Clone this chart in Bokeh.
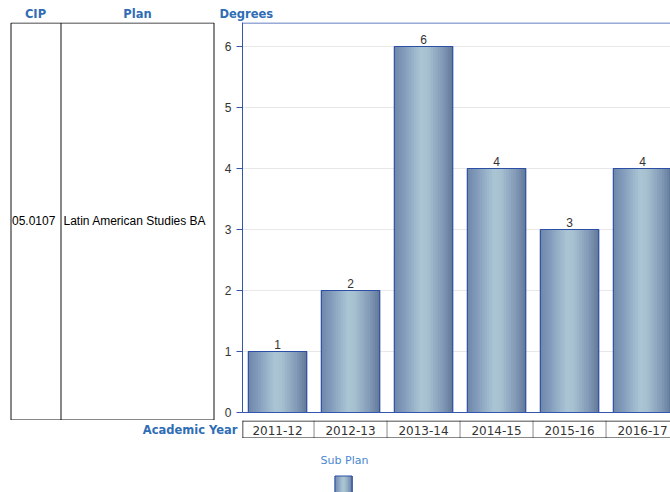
from bokeh.plotting import figure
from bokeh.models import Range1d, FixedTicker, Span
from bokeh.layouts import column, row
from bokeh.embed import file_html
from bokeh.resources import INLINE
from bokeh.core.properties import value

# ---- data ----
years = ["2011-12", "2012-13", "2013-14", "2014-15", "2015-16", "2016-17"]
degrees = [1, 2, 6, 4, 3, 4]
cip_codes = ["05.0107"]
plans = ["Latin American Studies BA"]
y_ticks = [0, 1, 2, 3, 4, 5, 6]
legend_labels = ["Sub Plan"]

# ---- styles ----
HEAD = "#2f6db5"
AXIS_BLUE = "#3556ae"
BAR_LINE = "#2c4fa6"
GRID = "#e8e8e8"
STOPS = [(0.0, "#6f88a8"), (0.15, "#8199ba"), (0.45, "#aac5d4"),
         (0.58, "#a6c0d0"), (0.85, "#7e96b4"), (1.0, "#617997")]
NSTRIP = 24
PX_PER_UNIT = 61.0
Y_TOP = 390 / PX_PER_UNIT
Y_BOTTOM = -8 / PX_PER_UNIT


def hex2rgb(h):
    h = h.lstrip("#")
    return tuple(int(h[i:i + 2], 16) for i in (0, 2, 4))


def grad(t):
    for (t0, c0), (t1, c1) in zip(STOPS[:-1], STOPS[1:]):
        if t0 <= t <= t1:
            f = (t - t0) / (t1 - t0) if t1 > t0 else 0
            a, b = hex2rgb(c0), hex2rgb(c1)
            return "#%02x%02x%02x" % tuple(int(round(a[k] + (b[k] - a[k]) * f)) for k in range(3))
    return STOPS[-1][1]


STRIP_COLORS = [grad((j + 0.5) / NSTRIP) for j in range(NSTRIP)]


def blank(fig):
    fig.outline_line_color = None
    fig.background_fill_color = "white"
    fig.border_fill_color = "white"
    fig.xgrid.grid_line_color = None
    fig.ygrid.grid_line_color = None
    return fig


def helper(w, h, xr, yr):
    f = figure(width=w, height=h, x_range=xr, y_range=yr, toolbar_location=None,
               output_backend="svg", x_axis_location=None, y_axis_location=None,
               min_border=0, min_border_left=0, min_border_right=0,
               min_border_top=0, min_border_bottom=0)
    return blank(f)


def text_kw(size, color, bold=False, font="DejaVu Sans"):
    return dict(text_font=value(font), text_font_size=size, text_color=color,
                text_font_style="bold" if bold else "normal")


# ---- header row ----
hdr = helper(670, 22, Range1d(0, 670), Range1d(22, 0))
hdr.text(x=[35, 137], y=[13.5, 13.5], text=["CIP", "Plan"], text_align="center",
         text_baseline="middle", **text_kw("11.5px", HEAD, True))
hdr.text(x=[219], y=[13.5], text=["Degrees"], text_align="left",
         text_baseline="middle", **text_kw("11.5px", HEAD, True))

# ---- table ----
tbl = helper(216, 398, Range1d(0, 216), Range1d(420, 22))
tbl.quad(left=[10.5], right=[213.5], top=[22.5], bottom=[419.5],
         fill_color=None, line_color="#111111", line_width=1)
tbl.segment(x0=[60.5], x1=[60.5], y0=[22.5], y1=[419.5], line_color="#111111", line_width=1)
tbl.text(x=[11.5], y=[220], text=cip_codes, text_align="left", text_baseline="middle",
         **text_kw("12px", "#000000", font="Liberation Sans"))
tbl.text(x=[63], y=[220], text=plans, text_align="left", text_baseline="middle",
         **text_kw("12px", "#000000", font="Liberation Sans"))

# ---- chart ----
n = len(years)
xr = Range1d(0.02, 0.02 + 428 / 73.0)
p = figure(width=454, height=398, x_range=xr, y_range=Range1d(Y_BOTTOM, Y_TOP),
           toolbar_location=None, output_backend="svg", x_axis_location=None,
           y_axis_location="left", min_border_left=26, min_border_right=0,
           min_border_top=0, min_border_bottom=0)
p.background_fill_color = "white"
p.border_fill_color = "white"
p.outline_line_color = None
p.xgrid.grid_line_color = None
p.ygrid.grid_line_color = GRID
p.ygrid.ticker = FixedTicker(ticks=y_ticks)
ax = p.yaxis[0]
ax.ticker = FixedTicker(ticks=y_ticks)
ax.bounds = (0, Y_TOP)
ax.axis_line_color = AXIS_BLUE
ax.major_tick_line_color = AXIS_BLUE
ax.major_tick_out = 6
ax.major_tick_in = 0
ax.minor_tick_line_color = None
ax.major_label_standoff = 5
ax.major_label_text_font = "Liberation Sans"
ax.major_label_text_font_size = "12px"
ax.major_label_text_color = "#333333"
p.add_layout(Span(location=0, dimension="width", line_color=AXIS_BLUE, line_width=1))
p.add_layout(Span(location=Y_TOP - 0.5 / PX_PER_UNIT, dimension="width",
                  line_color=AXIS_BLUE, line_width=1))

bw = 0.8
centers = [i + 0.5 for i in range(n)]
L, R, T, B, C = [], [], [], [], []
# layered strips: each layer starts further right and runs to the bar's right edge
for j in range(NSTRIP):
    for c, v in zip(centers, degrees):
        left0 = c - bw / 2
        L.append(left0 + j * bw / NSTRIP)
        R.append(c + bw / 2)
        T.append(v)
        B.append(0)
        C.append(STRIP_COLORS[j])
p.quad(left=L, right=R, top=T, bottom=B, fill_color=C, line_color=None)
p.vbar(x=centers, top=degrees, width=bw, fill_color=None, line_color=BAR_LINE, line_width=1.2)
p.text(x=centers, y=degrees, text=[str(v) for v in degrees], text_align="center",
       text_baseline="bottom", y_offset=-3, **text_kw("12px", "#333333", font="Liberation Sans"))

# ---- x category row ----
acad = helper(242, 18, Range1d(0, 242), Range1d(438, 420))
acad.text(x=[237], y=[429.5], text=["Academic Year"], text_align="right",
          text_baseline="middle", **text_kw("11.5px", HEAD, True))

xrow = helper(428, 18, xr, Range1d(18, 0))
xrow.segment(x0=list(range(1, n + 1)), x1=list(range(1, n + 1)), y0=[0] * n, y1=[18] * n,
             line_color="#8a8a8a", line_width=1)
xrow.segment(x0=[0, 0], x1=[n, n], y0=[0.5, 17.5], y1=[0.5, 17.5], line_color="#111111", line_width=1)
xrow.segment(x0=[0.02], x1=[0.02], y0=[0], y1=[18], line_color="#111111", line_width=1.5)
xrow.text(x=centers, y=[9.5] * n, text=years, text_align="center", text_baseline="middle",
          **text_kw("12px", "#333333"))

# ---- legend ----
leg = helper(670, 54, Range1d(0, 670), Range1d(492, 438))
leg.text(x=[344], y=[460], text=legend_labels, text_align="center", text_baseline="middle",
         **text_kw("11px", "#4a88cf"))
sw_l, sw_r, sw_t, sw_b = 334, 352, 475.5, 492
LL, RR, CC = [], [], []
for j in range(NSTRIP):
    LL.append(sw_l + j * (sw_r - sw_l) / NSTRIP)
    RR.append(sw_r)
    CC.append(STRIP_COLORS[j])
leg.quad(left=LL, right=RR, top=[sw_t] * NSTRIP, bottom=[sw_b] * NSTRIP, fill_color=CC, line_color=None)
leg.quad(left=[sw_l + 0.5], right=[sw_r - 0.5], top=[sw_t], bottom=[sw_b], fill_color=None,
         line_color=BAR_LINE, line_width=1)

layout = column(hdr, row(tbl, p), row(acad, xrow), leg)
open("out.html", "w").write(file_html(layout, INLINE))
